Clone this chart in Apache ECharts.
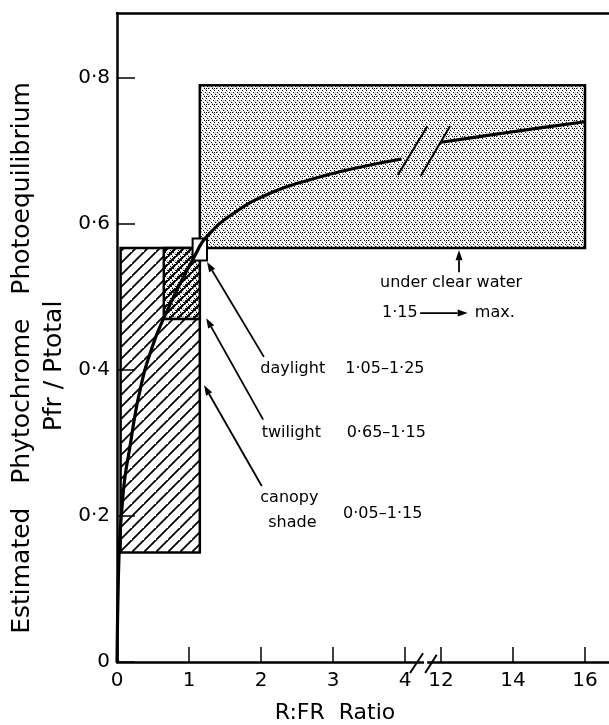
<!DOCTYPE html>
<html><head><meta charset="utf-8">
<script src="https://cdn.jsdelivr.net/npm/echarts@6/dist/echarts.min.js"></script>
<style>html,body{margin:0;padding:0;background:#fff}#c{width:609px;height:725px}</style>
</head><body><div id="c"></div>
<script>
// ---- data ----
const xTickValues = [0, 1, 2, 3, 4, 12, 14, 16];          // R:FR tick labels (axis broken between 4 and 12)
const yTickValues = [0, 0.2, 0.4, 0.6, 0.8];
const curveLowX  = [0, 0.02, 0.04, 0.07, 0.11, 0.18, 0.25, 0.32, 0.43, 0.69, 1.11, 1.24, 1.61, 2.15, 2.69, 3.24, 3.95];
const curveLowY  = [0, 0.12, 0.171, 0.212, 0.253, 0.295, 0.338, 0.372, 0.414, 0.480, 0.562, 0.582, 0.614, 0.643, 0.661, 0.675, 0.689];
const curveHighX = [12, 13.8, 16];
const curveHighY = [0.712, 0.725, 0.740];
const boxNames = ['under clear water', 'canopy shade', 'twilight', 'daylight'];
const boxX0 = [1.15, 0.05, 0.65, 1.05];
const boxX1 = [16, 1.15, 1.15, 1.25];
const boxY0 = [0.567, 0.15, 0.47, 0.55];
const boxY1 = [0.79, 0.567, 0.567, 0.58];
const boxFill = ['stipple', 'hatch', 'both', 'white'];
// annotation labels (display-axis units)
const noteText = ['under clear water', '1·15', 'max.', 'daylight', '1·05–1·25', 'twilight', '0·65–1·15', 'canopy', 'shade', '0·05–1·15'];
const noteX    = [4.64, 3.68, 4.97, 1.99, 3.17, 2.01, 3.19, 1.99, 2.10, 3.14];
const noteY    = [0.519, 0.478, 0.478, 0.401, 0.401, 0.314, 0.314, 0.225, 0.190, 0.203];
const noteAlign= ['center','left','left','left','left','left','left','left','left','left'];
// leader arrows (display-axis units): tail -> head
const arrowX1 = [2.04, 2.03, 2.01, 4.75, 4.21];
const arrowY1 = [0.418, 0.332, 0.241, 0.534, 0.478];
const arrowX2 = [1.25, 1.24, 1.21, 4.75, 4.87];
const arrowY2 = [0.548, 0.471, 0.379, 0.564, 0.478];
// break slashes (display-axis units)
const slashX1 = [3.90, 4.22, 4.07, 4.28];
const slashY1 = [0.667, 0.666, -0.015, -0.015];
const slashX2 = [4.31, 4.625, 4.25, 4.44];
const slashY2 = [0.734, 0.734, 0.012, 0.010];

// axis break mapping
function toD(x) { return x <= 4 ? x : 4.5 + (x - 12) / 2; }
function fromD(d) { return d <= 4 ? d : 12 + (d - 4.5) * 2; }
function fmt(v) { return String(Math.round(v * 100) / 100).replace('.', '·'); }

// patterns
function stippleCanvas() {
  const c = document.createElement('canvas'); c.width = 8; c.height = 8;
  const g = c.getContext('2d'); g.fillStyle = '#fff'; g.fillRect(0, 0, 8, 8);
  g.fillStyle = '#b0b0b0';
  const lt = [[1,0],[5,1],[3,3],[7,4],[0,6],[4,7],[6,2],[2,5],[1,7],[6,5]];
  lt.forEach(p => g.fillRect(p[0], p[1], 1, 1));
  g.fillStyle = '#000';
  const pts = [[0,0],[4,0],[2,2],[6,2],[1,4],[5,4],[3,6],[7,6],[6,0]];
  pts.forEach(p => g.fillRect(p[0], p[1], 1, 1));
  return c;
}
function hatchCanvas(s, w, bg) {
  const c = document.createElement('canvas'); c.width = s; c.height = s;
  const g = c.getContext('2d');
  if (bg) { for (let i = 0; i < s; i += 8) for (let j = 0; j < s; j += 8) g.drawImage(bg, i, j); }
  g.strokeStyle = '#000'; g.lineWidth = w;
  g.beginPath();
  g.moveTo(-1, s + 1); g.lineTo(s + 1, -1);
  g.moveTo(-1 - s, s + 1); g.lineTo(1, -1);
  g.moveTo(s - 1, 2 * s + 1); g.lineTo(2 * s + 1, s - 1);
  g.stroke();
  return c;
}
const stip = stippleCanvas();
const patterns = {
  stipple: { image: stip, repeat: 'repeat' },
  hatch: { image: hatchCanvas(12, 1.8), repeat: 'repeat' },
  both: { image: hatchCanvas(8, 2.2, stip), repeat: 'repeat' },
  white: '#fff'
};

const FONT = 'DejaVu Sans';
const chart = echarts.init(document.getElementById('c'), null, { renderer: 'canvas' });

const boxData = boxNames.map((n, i) => [toD(boxX0[i]), toD(boxX1[i]), boxY0[i], boxY1[i], i]);
const lowData = curveLowX.map((x, i) => [toD(x), curveLowY[i]]);
const highData = curveHighX.map((x, i) => [toD(x), curveHighY[i]]);
const noteData = noteText.map((t, i) => [noteX[i], noteY[i], i]);
const arrowData = arrowX1.map((x, i) => [x, arrowY1[i], arrowX2[i], arrowY2[i]]);
const slashData = slashX1.map((x, i) => [x, slashY1[i], slashX2[i], slashY2[i], i]);

chart.setOption({
  animation: false,
  backgroundColor: '#fff',
  grid: { left: 117, right: 0, top: 13, bottom: 63, containLabel: false },
  xAxis: [{
    type: 'value', min: 0, max: 6.833,
    axisLine: { show: true, lineStyle: { color: '#000', width: 2.5 } },
    splitLine: { show: false },
    axisTick: { show: true, inside: true, length: 15, lineStyle: { color: '#000', width: 1.5 }, customValues: xTickValues.map(toD) },
    axisLabel: { show: true, margin: 9, color: '#000', fontFamily: FONT, fontSize: 20, customValues: xTickValues.map(toD), formatter: v => fmt(fromD(v)) }
  }, {
    type: 'value', min: 0, max: 6.833, position: 'top',
    axisLine: { show: true, onZero: false, lineStyle: { color: '#000', width: 2.5 } },
    axisTick: { show: false }, axisLabel: { show: false }, splitLine: { show: false }
  }],
  yAxis: {
    type: 'value', min: 0, max: 0.889,
    axisLine: { show: true, lineStyle: { color: '#000', width: 2.5 } },
    splitLine: { show: false },
    axisTick: { show: true, inside: true, length: 18, lineStyle: { color: '#000', width: 1.5 }, customValues: yTickValues },
    axisLabel: { show: true, margin: 7, color: '#000', fontFamily: FONT, fontSize: 20, customValues: yTickValues, formatter: v => fmt(v) }
  },
  graphic: [
    { type: 'text', x: 22, y: 358, rotation: Math.PI / 2,
      style: { text: 'Estimated   Phytochrome   Photoequilibrium', font: '25px "DejaVu Sans"', fill: '#000', align: 'center', verticalAlign: 'middle' } },
    { type: 'text', x: 54, y: 366, rotation: Math.PI / 2,
      style: { text: 'Pfr / Ptotal', font: '25px "DejaVu Sans"', fill: '#000', align: 'center', verticalAlign: 'middle' } },
    { type: 'text', x: 335, y: 713,
      style: { text: 'R:FR  Ratio', font: '22px "DejaVu Sans"', fill: '#000', align: 'center', verticalAlign: 'middle' } }
  ],
  series: [
    {
      type: 'custom', xAxisIndex: 0, yAxisIndex: 0, data: boxData, z: 2,
      renderItem: (params, api) => {
        const a = api.coord([api.value(0), api.value(3)]);
        const b = api.coord([api.value(1), api.value(2)]);
        const i = api.value(4);
        return { type: 'rect', shape: { x: a[0], y: a[1], width: b[0] - a[0], height: b[1] - a[1] },
          style: { fill: patterns[boxFill[i]], stroke: '#000', lineWidth: i === 3 ? 2 : 2.5 } };
      }
    },
    { type: 'line', data: lowData, smooth: 0.5, showSymbol: false, z: 5,
      lineStyle: { color: '#000', width: 3.2 } },
    { type: 'line', data: highData, smooth: 0.3, showSymbol: false, z: 5,
      lineStyle: { color: '#000', width: 3.2 } },
    {
      type: 'custom', data: slashData, z: 6,
      renderItem: (params, api) => {
        const a = api.coord([api.value(0), api.value(1)]);
        const b = api.coord([api.value(2), api.value(3)]);
        const i = api.value(4);
        const kids = [];
        if (i === 2) {
          const c = api.coord([api.value(2), 0]);
          const d = api.coord([slashX1[3], 0]);
          kids.push({ type: 'line', shape: { x1: c[0] + 1, y1: c[1], x2: d[0] + 2, y2: d[1] }, style: { stroke: '#fff', lineWidth: 4 } });
        }
        kids.push({ type: 'line', shape: { x1: a[0], y1: a[1], x2: b[0], y2: b[1] }, style: { stroke: '#000', lineWidth: 2 } });
        return { type: 'group', children: kids };
      }
    },
    {
      type: 'custom', data: arrowData, z: 6,
      renderItem: (params, api) => {
        const a = api.coord([api.value(0), api.value(1)]);
        const b = api.coord([api.value(2), api.value(3)]);
        const ang = Math.atan2(b[1] - a[1], b[0] - a[0]);
        const L = 10, W = 3.5;
        const bx = b[0] - L * Math.cos(ang), by = b[1] - L * Math.sin(ang);
        const px = -Math.sin(ang) * W, py = Math.cos(ang) * W;
        return { type: 'group', children: [
          { type: 'line', shape: { x1: a[0], y1: a[1], x2: bx, y2: by }, style: { stroke: '#000', lineWidth: 1.8 } },
          { type: 'polygon', shape: { points: [[b[0], b[1]], [bx + px, by + py], [bx - px, by - py]] }, style: { fill: '#000' } }
        ] };
      }
    },
    {
      type: 'custom', data: noteData, z: 7,
      renderItem: (params, api) => {
        const p = api.coord([api.value(0), api.value(1)]);
        const i = api.value(2);
        return { type: 'text', x: p[0], y: p[1],
          style: { text: noteText[i], font: '16px "DejaVu Sans"', fill: '#000', align: noteAlign[i], verticalAlign: 'middle' } };
      }
    }
  ]
});
</script></body></html>
